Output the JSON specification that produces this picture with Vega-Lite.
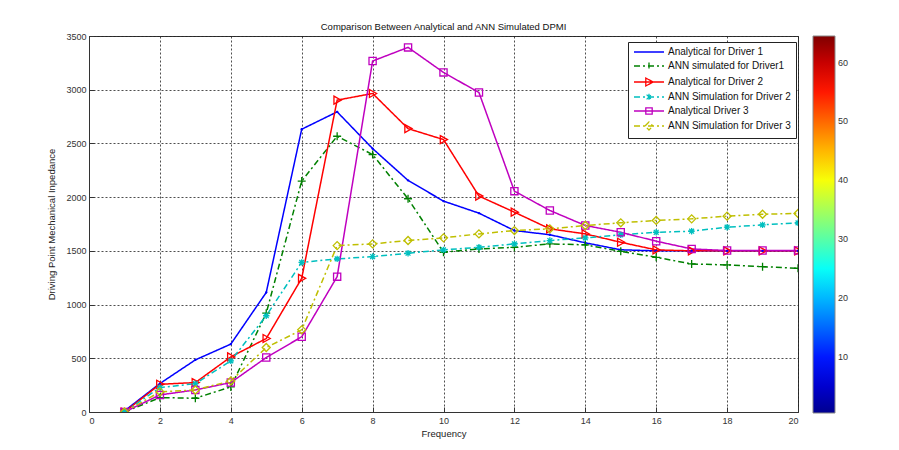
{
  "$schema": "https://vega.github.io/schema/vega-lite/v6.json",
  "autosize": "none",
  "width": 709,
  "height": 376,
  "padding": {"left": 89, "top": 36, "right": 101, "bottom": 38},
  "background": "white",
  "title": {"text": "Comparison Between Analytical and ANN Simulated DPMI", "font": "Liberation Sans", "fontSize": 9.5, "fontWeight": "normal", "color": "#111", "offset": 1, "anchor": "middle"},
  "config": {
    "view": {"stroke": "#333", "strokeWidth": 1},
    "axis": {"labelFont": "Liberation Sans", "labelFontSize": 9, "labelColor": "#333", "titleFont": "Liberation Sans", "titleFontSize": 9.5, "titleFontWeight": "normal", "titleColor": "#222", "domainColor": "#333", "tickColor": "#333", "tickSize": -5, "gridColor": "#222", "gridDash": [2, 2], "gridOpacity": 0.8, "gridWidth": 1},
    "point": {"filled": false, "size": 64, "strokeWidth": 1.3, "opacity": 1}
  },
  "datasets": {
    "dpmi": [
      {"f": 1, "v": 10, "s": "Analytical for Driver 1"},
      {"f": 2, "v": 265, "s": "Analytical for Driver 1"},
      {"f": 3, "v": 485, "s": "Analytical for Driver 1"},
      {"f": 4, "v": 632, "s": "Analytical for Driver 1"},
      {"f": 5, "v": 1113, "s": "Analytical for Driver 1"},
      {"f": 6, "v": 2632, "s": "Analytical for Driver 1"},
      {"f": 7, "v": 2794, "s": "Analytical for Driver 1"},
      {"f": 8, "v": 2452, "s": "Analytical for Driver 1"},
      {"f": 9, "v": 2156, "s": "Analytical for Driver 1"},
      {"f": 10, "v": 1963, "s": "Analytical for Driver 1"},
      {"f": 11, "v": 1851, "s": "Analytical for Driver 1"},
      {"f": 12, "v": 1689, "s": "Analytical for Driver 1"},
      {"f": 13, "v": 1650, "s": "Analytical for Driver 1"},
      {"f": 14, "v": 1575, "s": "Analytical for Driver 1"},
      {"f": 15, "v": 1510, "s": "Analytical for Driver 1"},
      {"f": 16, "v": 1500, "s": "Analytical for Driver 1"},
      {"f": 17, "v": 1500, "s": "Analytical for Driver 1"},
      {"f": 18, "v": 1500, "s": "Analytical for Driver 1"},
      {"f": 19, "v": 1500, "s": "Analytical for Driver 1"},
      {"f": 20, "v": 1500, "s": "Analytical for Driver 1"},
      {"f": 1, "v": 0, "s": "ANN simulated for Driver1"},
      {"f": 2, "v": 134, "s": "ANN simulated for Driver1"},
      {"f": 3, "v": 128, "s": "ANN simulated for Driver1"},
      {"f": 4, "v": 233, "s": "ANN simulated for Driver1"},
      {"f": 5, "v": 920, "s": "ANN simulated for Driver1"},
      {"f": 6, "v": 2150, "s": "ANN simulated for Driver1"},
      {"f": 7, "v": 2567, "s": "ANN simulated for Driver1"},
      {"f": 8, "v": 2396, "s": "ANN simulated for Driver1"},
      {"f": 9, "v": 1985, "s": "ANN simulated for Driver1"},
      {"f": 10, "v": 1487, "s": "ANN simulated for Driver1"},
      {"f": 11, "v": 1518, "s": "ANN simulated for Driver1"},
      {"f": 12, "v": 1533, "s": "ANN simulated for Driver1"},
      {"f": 13, "v": 1565, "s": "ANN simulated for Driver1"},
      {"f": 14, "v": 1556, "s": "ANN simulated for Driver1"},
      {"f": 15, "v": 1496, "s": "ANN simulated for Driver1"},
      {"f": 16, "v": 1440, "s": "ANN simulated for Driver1"},
      {"f": 17, "v": 1378, "s": "ANN simulated for Driver1"},
      {"f": 18, "v": 1369, "s": "ANN simulated for Driver1"},
      {"f": 19, "v": 1353, "s": "ANN simulated for Driver1"},
      {"f": 20, "v": 1338, "s": "ANN simulated for Driver1"},
      {"f": 1, "v": 0, "s": "Analytical for Driver 2"},
      {"f": 2, "v": 258, "s": "Analytical for Driver 2"},
      {"f": 3, "v": 274, "s": "Analytical for Driver 2"},
      {"f": 4, "v": 513, "s": "Analytical for Driver 2"},
      {"f": 5, "v": 684, "s": "Analytical for Driver 2"},
      {"f": 6, "v": 1244, "s": "Analytical for Driver 2"},
      {"f": 7, "v": 2903, "s": "Analytical for Driver 2"},
      {"f": 8, "v": 2965, "s": "Analytical for Driver 2"},
      {"f": 9, "v": 2638, "s": "Analytical for Driver 2"},
      {"f": 10, "v": 2536, "s": "Analytical for Driver 2"},
      {"f": 11, "v": 2010, "s": "Analytical for Driver 2"},
      {"f": 12, "v": 1860, "s": "Analytical for Driver 2"},
      {"f": 13, "v": 1705, "s": "Analytical for Driver 2"},
      {"f": 14, "v": 1658, "s": "Analytical for Driver 2"},
      {"f": 15, "v": 1580, "s": "Analytical for Driver 2"},
      {"f": 16, "v": 1509, "s": "Analytical for Driver 2"},
      {"f": 17, "v": 1500, "s": "Analytical for Driver 2"},
      {"f": 18, "v": 1500, "s": "Analytical for Driver 2"},
      {"f": 19, "v": 1500, "s": "Analytical for Driver 2"},
      {"f": 20, "v": 1500, "s": "Analytical for Driver 2"},
      {"f": 1, "v": 0, "s": "ANN Simulation for Driver 2"},
      {"f": 2, "v": 227, "s": "ANN Simulation for Driver 2"},
      {"f": 3, "v": 264, "s": "ANN Simulation for Driver 2"},
      {"f": 4, "v": 476, "s": "ANN Simulation for Driver 2"},
      {"f": 5, "v": 896, "s": "ANN Simulation for Driver 2"},
      {"f": 6, "v": 1393, "s": "ANN Simulation for Driver 2"},
      {"f": 7, "v": 1425, "s": "ANN Simulation for Driver 2"},
      {"f": 8, "v": 1447, "s": "ANN Simulation for Driver 2"},
      {"f": 9, "v": 1478, "s": "ANN Simulation for Driver 2"},
      {"f": 10, "v": 1509, "s": "ANN Simulation for Driver 2"},
      {"f": 11, "v": 1533, "s": "ANN Simulation for Driver 2"},
      {"f": 12, "v": 1565, "s": "ANN Simulation for Driver 2"},
      {"f": 13, "v": 1596, "s": "ANN Simulation for Driver 2"},
      {"f": 14, "v": 1621, "s": "ANN Simulation for Driver 2"},
      {"f": 15, "v": 1649, "s": "ANN Simulation for Driver 2"},
      {"f": 16, "v": 1673, "s": "ANN Simulation for Driver 2"},
      {"f": 17, "v": 1683, "s": "ANN Simulation for Driver 2"},
      {"f": 18, "v": 1720, "s": "ANN Simulation for Driver 2"},
      {"f": 19, "v": 1742, "s": "ANN Simulation for Driver 2"},
      {"f": 20, "v": 1761, "s": "ANN Simulation for Driver 2"},
      {"f": 1, "v": 0, "s": "Analytical Driver 3"},
      {"f": 2, "v": 159, "s": "Analytical Driver 3"},
      {"f": 3, "v": 205, "s": "Analytical Driver 3"},
      {"f": 4, "v": 274, "s": "Analytical Driver 3"},
      {"f": 5, "v": 507, "s": "Analytical Driver 3"},
      {"f": 6, "v": 700, "s": "Analytical Driver 3"},
      {"f": 7, "v": 1260, "s": "Analytical Driver 3"},
      {"f": 8, "v": 3267, "s": "Analytical Driver 3"},
      {"f": 9, "v": 3394, "s": "Analytical Driver 3"},
      {"f": 10, "v": 3161, "s": "Analytical Driver 3"},
      {"f": 11, "v": 2974, "s": "Analytical Driver 3"},
      {"f": 12, "v": 2056, "s": "Analytical Driver 3"},
      {"f": 13, "v": 1876, "s": "Analytical Driver 3"},
      {"f": 14, "v": 1736, "s": "Analytical Driver 3"},
      {"f": 15, "v": 1673, "s": "Analytical Driver 3"},
      {"f": 16, "v": 1590, "s": "Analytical Driver 3"},
      {"f": 17, "v": 1518, "s": "Analytical Driver 3"},
      {"f": 18, "v": 1503, "s": "Analytical Driver 3"},
      {"f": 19, "v": 1503, "s": "Analytical Driver 3"},
      {"f": 20, "v": 1503, "s": "Analytical Driver 3"},
      {"f": 1, "v": 0, "s": "ANN Simulation for Driver 3"},
      {"f": 2, "v": 187, "s": "ANN Simulation for Driver 3"},
      {"f": 3, "v": 205, "s": "ANN Simulation for Driver 3"},
      {"f": 4, "v": 289, "s": "ANN Simulation for Driver 3"},
      {"f": 5, "v": 600, "s": "ANN Simulation for Driver 3"},
      {"f": 6, "v": 765, "s": "ANN Simulation for Driver 3"},
      {"f": 7, "v": 1549, "s": "ANN Simulation for Driver 3"},
      {"f": 8, "v": 1565, "s": "ANN Simulation for Driver 3"},
      {"f": 9, "v": 1596, "s": "ANN Simulation for Driver 3"},
      {"f": 10, "v": 1621, "s": "ANN Simulation for Driver 3"},
      {"f": 11, "v": 1658, "s": "ANN Simulation for Driver 3"},
      {"f": 12, "v": 1689, "s": "ANN Simulation for Driver 3"},
      {"f": 13, "v": 1705, "s": "ANN Simulation for Driver 3"},
      {"f": 14, "v": 1736, "s": "ANN Simulation for Driver 3"},
      {"f": 15, "v": 1761, "s": "ANN Simulation for Driver 3"},
      {"f": 16, "v": 1783, "s": "ANN Simulation for Driver 3"},
      {"f": 17, "v": 1798, "s": "ANN Simulation for Driver 3"},
      {"f": 18, "v": 1823, "s": "ANN Simulation for Driver 3"},
      {"f": 19, "v": 1841, "s": "ANN Simulation for Driver 3"},
      {"f": 20, "v": 1848, "s": "ANN Simulation for Driver 3"}
    ],
    "colorbar": [{"cb": 1}, {"cb": 64}]
  },
  "layer": [
    {
      "data": {"name": "dpmi"},
      "mark": {"type": "line", "strokeWidth": 1.5, "clip": true},
      "encoding": {
        "x": {"field": "f", "type": "quantitative", "scale": {"domain": [0, 20], "nice": false}, "axis": {"title": "Frequency", "values": [0, 2, 4, 6, 8, 10, 12, 14, 16, 18, 20], "labelPadding": 9, "titlePadding": 3}},
        "y": {"field": "v", "type": "quantitative", "scale": {"domain": [0, 3500], "nice": false}, "axis": {"title": "Driving Point Mechanical Inpedance", "format": "d", "values": [0, 500, 1000, 1500, 2000, 2500, 3000, 3500], "labelPadding": 8, "titlePadding": 9}},
        "color": {"field": "s", "type": "nominal", "scale": {"domain": ["Analytical for Driver 1", "ANN simulated for Driver1", "Analytical for Driver 2", "ANN Simulation for Driver 2", "Analytical Driver 3", "ANN Simulation for Driver 3"], "range": ["#0000FF", "#008000", "#FF0000", "#00BFBF", "#BF00BF", "#BFBF00"]},
          "legend": {"title": null, "orient": "none", "legendX": 539, "legendY": 6, "strokeColor": "#222", "fillColor": "white", "padding": 5, "symbolSize": 64, "symbolOffset": 11, "labelOffset": 14, "rowPadding": 2, "labelFont": "Liberation Sans", "labelFontSize": 10, "labelColor": "#111", "labelLimit": 300, "symbolStrokeWidth": 1.5, "symbolOpacity": 1, "symbolFillColor": "transparent"}},
        "strokeDash": {"field": "s", "type": "nominal", "scale": {"domain": ["Analytical for Driver 1", "ANN simulated for Driver1", "Analytical for Driver 2", "ANN Simulation for Driver 2", "Analytical Driver 3", "ANN Simulation for Driver 3"], "range": [[1, 0], [6, 3, 2, 3], [1, 0], [6, 3, 2, 3], [1, 0], [6, 3, 2, 3]]}}
      }
    },
    {
      "data": {"name": "dpmi"},
      "mark": {"type": "point", "opacity": 0},
      "encoding": {
        "x": {"field": "f", "type": "quantitative"},
        "y": {"field": "v", "type": "quantitative"},
        "color": {"field": "s", "type": "nominal"},
        "shape": {"field": "s", "type": "nominal", "scale": {"domain": ["Analytical for Driver 1", "ANN simulated for Driver1", "Analytical for Driver 2", "ANN Simulation for Driver 2", "Analytical Driver 3", "ANN Simulation for Driver 3"], "range": ["M-3.75,0L3.75,0M-0.3,0L0.3,0", "M-3.75,0L3.75,0M0,-0.9L0,0.9", "M-3.75,0L3.75,0M-0.8,-1L1,0L-0.8,1Z", "M-3.75,0L3.75,0M0,-0.8L0,0.8M-0.6,-0.6L0.6,0.6M-0.6,0.6L0.6,-0.6", "M-3.75,0L3.75,0M-0.8,-0.8L0.8,-0.8L0.8,0.8L-0.8,0.8Z", "M-3.75,0L3.75,0M-1,0L0,-1L1,0L0,1Z"]}}
      }
    },
    {
      "data": {"name": "dpmi"},
      "transform": [{"filter": {"field": "s", "equal": "Analytical for Driver 1"}}],
      "mark": {"type": "point", "shape": "M-0.3,0L0.3,0M0,-0.3L0,0.3", "clip": true},
      "encoding": {"x": {"field": "f", "type": "quantitative"}, "y": {"field": "v", "type": "quantitative"}, "color": {"field": "s", "type": "nominal"}}
    },
    {
      "data": {"name": "dpmi"},
      "transform": [{"filter": {"field": "s", "equal": "ANN simulated for Driver1"}}],
      "mark": {"type": "point", "shape": "M-1,0L1,0M0,-1L0,1", "clip": true},
      "encoding": {"x": {"field": "f", "type": "quantitative"}, "y": {"field": "v", "type": "quantitative"}, "color": {"field": "s", "type": "nominal"}}
    },
    {
      "data": {"name": "dpmi"},
      "transform": [{"filter": {"field": "s", "equal": "Analytical for Driver 2"}}],
      "mark": {"type": "point", "shape": "M-0.8,-1L1,0L-0.8,1Z", "clip": true},
      "encoding": {"x": {"field": "f", "type": "quantitative"}, "y": {"field": "v", "type": "quantitative"}, "color": {"field": "s", "type": "nominal"}}
    },
    {
      "data": {"name": "dpmi"},
      "transform": [{"filter": {"field": "s", "equal": "ANN Simulation for Driver 2"}}],
      "mark": {"type": "point", "shape": "M-0.8,0L0.8,0M0,-0.8L0,0.8M-0.6,-0.6L0.6,0.6M-0.6,0.6L0.6,-0.6", "clip": true},
      "encoding": {"x": {"field": "f", "type": "quantitative"}, "y": {"field": "v", "type": "quantitative"}, "color": {"field": "s", "type": "nominal"}}
    },
    {
      "data": {"name": "dpmi"},
      "transform": [{"filter": {"field": "s", "equal": "Analytical Driver 3"}}],
      "mark": {"type": "point", "shape": "M-0.9,-0.9L0.9,-0.9L0.9,0.9L-0.9,0.9Z", "clip": true},
      "encoding": {"x": {"field": "f", "type": "quantitative"}, "y": {"field": "v", "type": "quantitative"}, "color": {"field": "s", "type": "nominal"}}
    },
    {
      "data": {"name": "dpmi"},
      "transform": [{"filter": {"field": "s", "equal": "ANN Simulation for Driver 3"}}],
      "mark": {"type": "point", "shape": "M-1,0L0,-1L1,0L0,1Z", "clip": true},
      "encoding": {"x": {"field": "f", "type": "quantitative"}, "y": {"field": "v", "type": "quantitative"}, "color": {"field": "s", "type": "nominal"}}
    },
    {
      "data": {"name": "colorbar"},
      "mark": {"type": "circle", "size": 0, "opacity": 1},
      "encoding": {
        "fill": {"field": "cb", "type": "quantitative", "scale": {"domain": [0.5, 8.5, 24.5, 40.5, 56.5, 64.5], "range": ["#00008F", "#0000FF", "#00FFFF", "#FFFF00", "#FF0000", "#800000"], "interpolate": "rgb"},
          "legend": {"title": null, "orient": "none", "legendX": 724, "legendY": 0, "direction": "vertical", "gradientLength": 377, "gradientThickness": 22, "gradientStrokeColor": "#888", "gradientStrokeWidth": 1, "values": [10, 20, 30, 40, 50, 60], "labelFont": "Liberation Sans", "labelFontSize": 9, "labelColor": "#333", "labelOffset": 3, "labelOverlap": false, "padding": 0}}
      }
    }
  ]
}
